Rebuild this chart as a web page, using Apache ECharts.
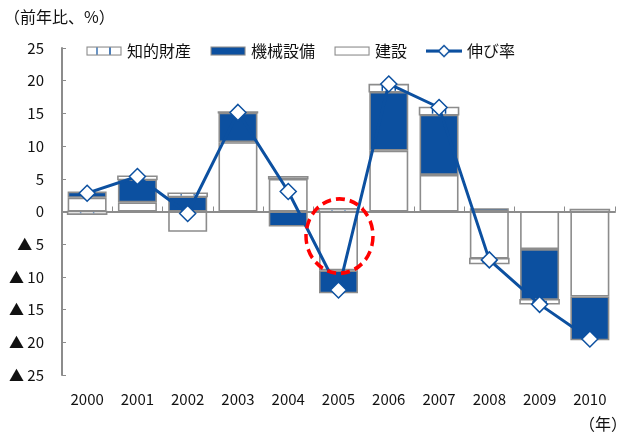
<!DOCTYPE html>
<html><head><meta charset="utf-8">
<script src="https://cdn.jsdelivr.net/npm/echarts@6/dist/echarts.min.js"></script>
<style>html,body{margin:0;padding:0;background:#fff}#c{width:621px;height:434px}</style>
</head><body><div id="c"></div>
<script>
var categories = ['2000','2001','2002','2003','2004','2005','2006','2007','2008','2009','2010'];
var kensetsu = [2.1, 1.4, -3.1, 10.6, 5.0, -9.0, 9.3, 5.6, -7.2, -5.75, -13.0];
var kikai    = [0.95, 3.5, 2.3, 4.5, -2.3, -3.5, 9.0, 9.2, 0.5, -7.75, -6.7];
var chiteki  = [-0.4, 0.5, 0.5, 0.1, 0.3, 0.4, 1.1, 1.1, -0.75, -0.6, 0.3];
var growth   = [2.8, 5.35, -0.3, 15.15, 3.05, -12.0, 19.5, 15.9, -7.4, -14.2, -19.5];
var yTicks = [-25,-20,-15,-10,-5,0,5,10,15,20,25];

var BLUE = '#0c50a0', GRAY = '#8c8c8c', FONT = '"Noto Sans CJK JP", "Noto Sans", sans-serif';
var BW = 39;

// base for manual stacking of 知的財産 on top of same-sign values
var chitekiData = chiteki.map(function(v, i){
  var base = 0;
  [kensetsu[i], kikai[i]].forEach(function(s){ if ((s >= 0) === (v >= 0)) base += s; });
  return [i, v, base];
});

// legend icons
function makeIcon(kind){
  var W = 36, H = 14, S = 3;
  var cv = document.createElement('canvas'); cv.width = W*S; cv.height = H*S;
  var g = cv.getContext('2d'); g.scale(S, S);
  if (kind === 'line') {
    g.strokeStyle = BLUE; g.lineWidth = 3;
    g.beginPath(); g.moveTo(0, 7); g.lineTo(36, 7); g.stroke();
    g.fillStyle = '#fff'; g.lineWidth = 1.5;
    g.beginPath(); g.moveTo(18, 1.5); g.lineTo(23.5, 7); g.lineTo(18, 12.5); g.lineTo(12.5, 7); g.closePath();
    g.fill(); g.stroke();
  } else {
    g.fillStyle = kind === 'kikai' ? BLUE : '#fff';
    g.fillRect(1, 3, 34, 8);
    g.strokeStyle = GRAY; g.lineWidth = 1.2; g.strokeRect(1, 3, 34, 8);
    if (kind === 'chiteki') {
      g.strokeStyle = BLUE; g.lineWidth = 1.3;
      g.beginPath(); g.moveTo(11, 3.6); g.lineTo(11, 10.4); g.moveTo(24, 3.6); g.lineTo(24, 10.4); g.stroke();
    }
  }
  return 'image://' + cv.toDataURL();
}

var chart = echarts.init(document.getElementById('c'));
var option = {
  animation: false,
  textStyle: {fontFamily: FONT},
  grid: {left: 62, top: 48, width: 553, height: 327},
  legend: {
    left: 81, top: 38, itemWidth: 36, itemHeight: 14, itemGap: 19,
    textStyle: {fontSize: 16, color: '#111', fontFamily: FONT},
    data: [{name: '知的財産', icon: makeIcon('chiteki')},
           {name: '機械設備', icon: makeIcon('kikai')},
           {name: '建設', icon: makeIcon('kensetsu')},
           {name: '伸び率', icon: makeIcon('line')}]
  },
  xAxis: [{
    type: 'category', data: categories, position: 'bottom',
    axisLine: {show: false, onZero: false}, axisTick: {show: false},
    axisLabel: {fontSize: 15, color: '#111', margin: 17, fontFamily: FONT}
  }, {
    type: 'category', data: categories, position: 'bottom',
    axisLine: {show: true, onZero: true, lineStyle: {color: GRAY, width: 2}},
    axisTick: {show: true, inside: true, length: 5, lineStyle: {color: GRAY, width: 1}},
    axisLabel: {show: false}
  }],
  yAxis: {
    type: 'value', min: -25, max: 25, interval: 5,
    axisLine: {show: true, lineStyle: {color: GRAY, width: 2}},
    axisTick: {show: true, inside: true, length: 4, lineStyle: {color: GRAY}},
    splitLine: {show: false},
    axisLabel: {fontSize: 15, color: '#111', margin: 18, fontFamily: FONT,
      formatter: function(v){ return v < 0 ? '▲ ' + (-v) : String(v); }}
  },
  series: [
    {name: '建設', type: 'bar', stack: 's', data: kensetsu, barWidth: BW,
     itemStyle: {color: '#fff', borderColor: GRAY, borderWidth: 1.6}, z: 2},
    {name: '機械設備', type: 'bar', stack: 's', data: kikai, barWidth: BW,
     itemStyle: {color: BLUE, borderColor: GRAY, borderWidth: 1.6}, z: 2},
    {name: '知的財産', type: 'custom', data: chitekiData, z: 3,
     encode: {x: 0, y: 1},
     itemStyle: {color: '#fff'},
     renderItem: function(params, api){
       var i = api.value(0), v = api.value(1), b = api.value(2);
       var p0 = api.coord([i, b]), p1 = api.coord([i, b + v]);
       var x = p0[0] - BW/2, y = Math.min(p0[1], p1[1]), h = Math.abs(p1[1] - p0[1]);
       return {type: 'group', children: [
         {type: 'rect', shape: {x: x, y: y, width: BW, height: h},
          style: {fill: '#fff', stroke: GRAY, lineWidth: 1.6}},
         {type: 'line', shape: {x1: x + BW/3, y1: y + 1, x2: x + BW/3, y2: y + h - 1},
          style: {stroke: BLUE, lineWidth: 1.5}},
         {type: 'line', shape: {x1: x + 2*BW/3, y1: y + 1, x2: x + 2*BW/3, y2: y + h - 1},
          style: {stroke: BLUE, lineWidth: 1.5}}
       ]};
     }},
    {name: '伸び率', type: 'line', data: growth, z: 5,
     symbol: 'diamond', symbolSize: 16,
     lineStyle: {color: BLUE, width: 3},
     itemStyle: {color: '#fff', borderColor: BLUE, borderWidth: 1.5}}
  ],
  graphic: [
    {type: 'text', left: 4, top: 9, style: {text: '（前年比、%）', fontSize: 16, fontFamily: FONT, fill: '#111'}},
    {type: 'text', right: -6, top: 416, style: {text: '（年）', fontSize: 16, fontFamily: FONT, fill: '#111'}}
  ]
};
chart.setOption(option);
var c = chart.convertToPixel({xAxisIndex: 0, yAxisIndex: 0}, ['2005', -3.76]);
chart.setOption({graphic: [{}, {}, {
  type: 'circle', x: c[0] + 1, y: c[1], scaleY: 1.11, z: 10,
  shape: {cx: 0, cy: 0, r: 33.5},
  style: {fill: 'none', stroke: '#ff0000', lineWidth: 3.5, lineDash: [9, 5]}
}]});
</script></body></html>
